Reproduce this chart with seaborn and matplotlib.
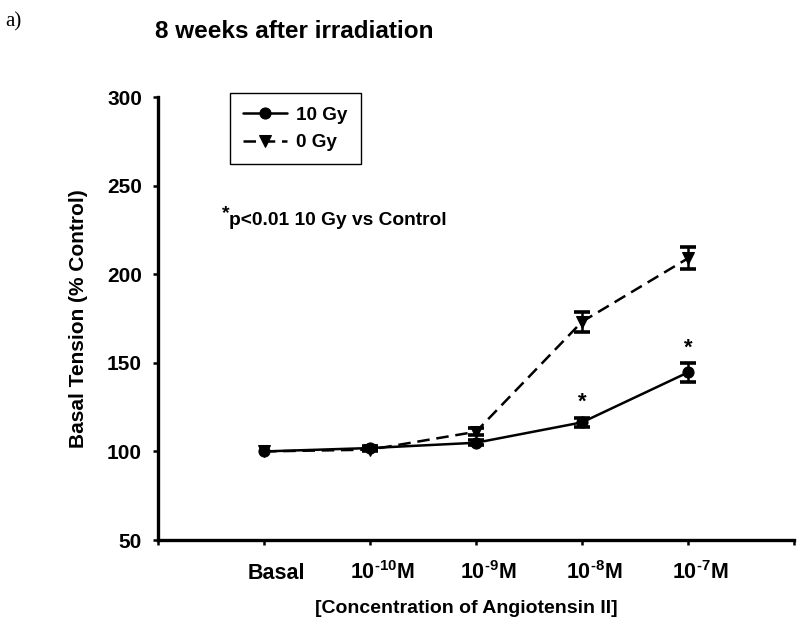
import matplotlib
matplotlib.use('Agg')
import matplotlib.pyplot as plt
import matplotlib.transforms as mtransforms
import pandas as pd
import seaborn as sns

# concentration steps (x positions are 1..5, axis runs 0..6)
conc_labels = ['Basal', '10$^{\\text{-10}}$M', '10$^{\\text{-9}}$M',
               '10$^{\\text{-8}}$M', '10$^{\\text{-7}}$M']
conc_pos = [1, 2, 3, 4, 5]

# basal tension (% control), mean and error
gy10_mean = [100.0, 101.9, 104.9, 116.4, 144.6]
gy10_err = [0.0, 1.0, 1.5, 2.6, 5.2]
gy0_mean = [100.0, 101.0, 111.1, 173.2, 209.0]
gy0_err = [0.0, 1.0, 2.0, 5.6, 6.2]

# significance markers for 10 Gy vs control
gy10_sig = [False, False, False, True, True]

sns.set_style('ticks')
plt.rcParams['font.family'] = ['Liberation Sans', 'DejaVu Sans']
plt.rcParams['font.weight'] = 'bold'
plt.rcParams['mathtext.fontset'] = 'custom'
plt.rcParams['mathtext.rm'] = 'Liberation Sans:bold'
plt.rcParams['mathtext.bf'] = 'Liberation Sans:bold'
plt.rcParams['mathtext.it'] = 'Liberation Sans:bold'
plt.rcParams['mathtext.default'] = 'bf'
for key in ['text.color', 'axes.labelcolor', 'xtick.color', 'ytick.color', 'axes.edgecolor']:
    plt.rcParams[key] = 'black'

df = pd.DataFrame({
    'pos': conc_pos * 2,
    'tension': gy10_mean + gy0_mean,
    'dose': ['10 Gy'] * 5 + ['0 Gy'] * 5,
})

fig = plt.figure(figsize=(8, 6.23), dpi=100)
ax = fig.add_axes([0.1975, 0.1332, 0.795, 0.711])

sns.lineplot(data=df, x='pos', y='tension', hue='dose', style='dose',
             hue_order=['10 Gy', '0 Gy'], style_order=['10 Gy', '0 Gy'],
             palette={'10 Gy': 'black', '0 Gy': 'black'},
             markers={'10 Gy': 'o', '0 Gy': 'v'},
             dashes={'10 Gy': '', '0 Gy': (5, 2.7)},
             linewidth=1.8, markersize=8, markeredgecolor='black',
             ax=ax)

# error bars only where there is a spread (basal is the 100% reference)
for means, errs in [(gy0_mean, gy0_err), (gy10_mean, gy10_err)]:
    keep = [i for i, e in enumerate(errs) if e > 0]
    ax.errorbar([conc_pos[i] for i in keep], [means[i] for i in keep],
                yerr=[errs[i] for i in keep], fmt='none', ecolor='black',
                elinewidth=1.8, capsize=5.8, capthick=2.6, zorder=3)

for x, m, e, s in zip(conc_pos, gy10_mean, gy10_err, gy10_sig):
    if s:
        ax.text(x, m + e + 8.5, '*', ha='center', va='center', fontsize=16,
                fontweight='bold')

old = ax.get_legend()
handles = old.legend_handles
labels = [t.get_text() for t in old.texts]
old.remove()
leg = ax.legend(handles, labels, loc='upper left', bbox_to_anchor=(0.113, 1.009),
                borderaxespad=0, fontsize=13.6, frameon=True, fancybox=False,
                edgecolor='black', framealpha=1, handlelength=2.3, borderpad=0.7,
                labelspacing=0.55, handletextpad=0.5)
leg.get_frame().set_linewidth(1.0)
for t in leg.get_texts():
    t.set_fontweight('bold')

ax.text(0.1, 0.738, '*', transform=ax.transAxes, fontsize=14,
        fontweight='bold', ha='left', va='center')
ax.text(0.1115, 0.722, 'p<0.01 10 Gy vs Control', transform=ax.transAxes,
        fontsize=13.8, fontweight='bold', ha='left', va='center')

ax.set_xlim(0, 6)
ax.set_ylim(50, 300)
ax.set_xticks(range(7))
ax.set_xticklabels([''] + conc_labels + [''])
ax.set_yticks([50, 100, 150, 200, 250, 300])
ax.tick_params(axis='x', length=3.6, width=1.8, pad=24.5, labelsize=15.5)
ax.tick_params(axis='y', length=3.6, width=1.8, pad=8, labelsize=15)
shift = mtransforms.ScaledTranslation(0.12, 0, fig.dpi_scale_trans)
for lab in ax.get_xticklabels():
    lab.set_verticalalignment('baseline')
    lab.set_fontweight('bold')
    lab.set_transform(lab.get_transform() + shift)
for lab in ax.get_yticklabels():
    lab.set_fontweight('bold')

for side in ['top', 'right']:
    ax.spines[side].set_visible(False)
for side in ['left', 'bottom']:
    ax.spines[side].set_linewidth(2.4)

ax.set_xlabel('[Concentration of Angiotensin II]', fontsize=14, fontweight='bold')
ax.set_ylabel('Basal Tension (% Control)', fontsize=15, fontweight='bold')
ax.xaxis.set_label_coords(0.484, -0.135)
ax.yaxis.set_label_coords(-0.110, 0.5)

fig.text(0.368, 1 - 32 / 623, '8 weeks after irradiation', ha='center', va='center',
         fontsize=17.5, fontweight='bold')
fig.text(0.006, 1 - 22 / 623, 'a)', ha='left', va='center', fontsize=15,
         fontweight='normal', family=['Liberation Serif', 'DejaVu Serif'])

fig.savefig('out.png', dpi=100)
